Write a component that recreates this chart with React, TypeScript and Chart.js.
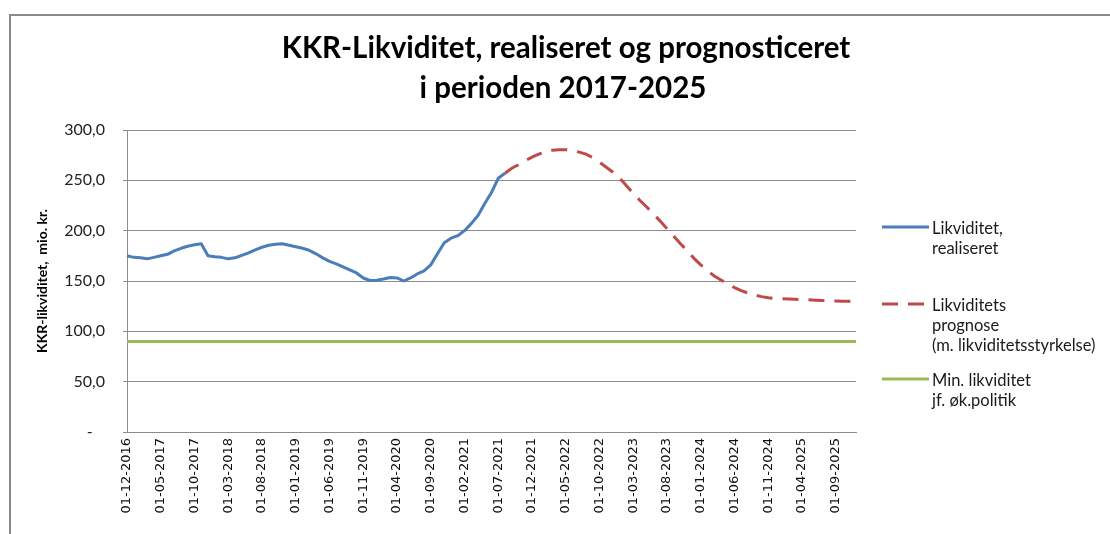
import React, { useEffect, useRef } from "react";
import { Chart, registerables } from "chart.js";

Chart.register(...registerables);

// ---------- Data ----------
const START_YEAR = 2016;
const START_MONTH = 12;
const MONTH_COUNT = 109; // 01-12-2016 .. 01-12-2025
const TICK_STEP = 5;

const categories: string[] = Array.from({ length: MONTH_COUNT }, (_, i) => {
  const m0 = START_MONTH - 1 + i;
  const y = START_YEAR + Math.floor(m0 / 12);
  const m = (m0 % 12) + 1;
  return `01-${String(m).padStart(2, "0")}-${y}`;
});

// Realised liquidity (mio. kr.), 01-12-2016 .. 01-08-2021
const realiseret: number[] = [
  175, 173.5, 173, 172, 173.5, 175, 176.5, 180, 182.5, 184.5, 186, 187,
  175, 174, 173.5, 172, 173, 175.5, 178, 181, 183.5, 185.5, 186.5, 187,
  185.5, 184, 182.5, 180.5, 177, 173, 169.5, 167, 164, 161, 158, 153,
  150.5, 150.8, 152, 153.5, 153, 150, 153, 157, 160, 166, 177, 188,
  192.5, 195, 200, 207, 215, 227, 238, 252, 257,
];

// Forecast (mio. kr.), 01-08-2021 .. 01-12-2025
const PROGNOSE_START = 56;
const prognose: number[] = [
  257, 262, 265.5, 269.5, 273, 276, 278.5, 279.8, 280.3, 280.5,
  279.5, 278, 276, 272.5, 268, 263, 258, 252, 244.5, 237,
  230, 223.5, 216.5, 209.5, 202, 194.5, 187, 180, 172.5, 166,
  160.5, 155, 151, 147, 143.5, 140.5, 138, 136, 134.5, 133.3,
  132.7, 132.3, 132, 131.8, 131.6, 131.3, 131, 130.6, 130.3, 130.1,
  130, 130, 130,
];

// Minimum liquidity according to economic policy (mio. kr.)
const MIN_LIKVIDITET = 90;

const yTicks = { min: 0, max: 300, step: 50 };

const titleLines = [
  "KKR-Likviditet, realiseret og prognosticeret",
  "i perioden 2017-2025",
];
const yAxisTitle = "KKR-likviditet,  mio. kr.";

const legendLines: string[][] = [
  ["Likviditet,", "realiseret"],
  ["Likviditets", "prognose", "(m. likviditetsstyrkelse)"],
  ["Min. likviditet", "jf. øk.politik"],
];

const COLORS = {
  real: "#4A7EBB",
  prog: "#BE4B48",
  min: "#9BBB59",
  grid: "#8C8C8C",
  text: "#1A1A1A",
};

// ---------- Plugins ----------
const framePlugin = {
  id: "frame",
  beforeDraw(chart: any) {
    const ctx = chart.ctx as CanvasRenderingContext2D;
    ctx.save();
    ctx.strokeStyle = "#8A8A8A";
    ctx.lineWidth = 2;
    ctx.beginPath();
    ctx.moveTo(10, 534);
    ctx.lineTo(10, 15);
    ctx.lineTo(1110, 15);
    ctx.stroke();
    ctx.restore();
  },
};

const titlePlugin = {
  id: "customTitle",
  afterDraw(chart: any) {
    const ctx = chart.ctx as CanvasRenderingContext2D;
    ctx.save();
    ctx.font = "bold 29.5px Lato";
    ctx.fillStyle = "#000";
    ctx.textAlign = "center";
    ctx.textBaseline = "alphabetic";
    ctx.fillText(titleLines[0], 566, 58);
    ctx.fillText(titleLines[1], 563, 98);
    ctx.restore();
  },
};

const legendPlugin = {
  id: "customLegend",
  afterDraw(chart: any) {
    const ctx = chart.ctx as CanvasRenderingContext2D;
    const datasets = chart.data.datasets;
    const itemTops = [229, 306, 381];
    ctx.save();
    ctx.font = "16.5px Lato";
    ctx.fillStyle = COLORS.text;
    ctx.textAlign = "left";
    ctx.textBaseline = "middle";
    legendLines.forEach((lines, i) => {
      const ds = datasets[i];
      const y0 = itemTops[i];
      ctx.save();
      ctx.strokeStyle = ds.borderColor;
      ctx.lineWidth = 3;
      ctx.setLineDash(ds.borderDash || []);
      ctx.lineCap = "butt";
      ctx.beginPath();
      ctx.moveTo(882, y0 - 2);
      ctx.lineTo(929, y0 - 2);
      ctx.stroke();
      ctx.restore();
      lines.forEach((t, j) => ctx.fillText(t, 932, y0 + j * 20));
    });
    ctx.restore();
  },
};

export default function App() {
  const canvasRef = useRef<HTMLCanvasElement | null>(null);

  useEffect(() => {
    const canvas = canvasRef.current;
    if (!canvas) return;

    const realData = categories.map((_, i) => (i < realiseret.length ? realiseret[i] : null));
    const progData = categories.map((_, i) =>
      i >= PROGNOSE_START && i - PROGNOSE_START < prognose.length ? prognose[i - PROGNOSE_START] : null
    );
    const minData = categories.map(() => MIN_LIKVIDITET);

    const chart = new Chart(canvas, {
      type: "line",
      data: {
        labels: categories,
        datasets: [
          {
            label: legendLines[0].join(" "),
            data: realData,
            borderColor: COLORS.real,
            backgroundColor: COLORS.real,
            borderWidth: 3,
            pointRadius: 0,
            tension: 0,
            borderJoinStyle: "round",
          },
          {
            label: legendLines[1].join(" "),
            data: progData,
            borderColor: COLORS.prog,
            backgroundColor: COLORS.prog,
            borderWidth: 3,
            borderDash: [16, 10],
            pointRadius: 0,
            tension: 0,
          },
          {
            label: legendLines[2].join(" "),
            data: minData,
            borderColor: COLORS.min,
            backgroundColor: COLORS.min,
            borderWidth: 3,
            pointRadius: 0,
            tension: 0,
          },
        ],
      },
      options: {
        animation: false,
        responsive: false,
        maintainAspectRatio: false,
        layout: { padding: { left: 22, top: 130, right: 254, bottom: 0 } },
        plugins: {
          legend: { display: false },
          title: { display: false },
          tooltip: { enabled: false },
        },
        scales: {
          x: {
            type: "category",
            offset: false,
            grid: { display: false, drawTicks: false },
            border: { display: true, color: COLORS.grid, width: 1 },
            ticks: {
              autoSkip: false,
              minRotation: 90,
              maxRotation: 90,
              padding: 6,
              color: "#111",
              font: { family: "DejaVu Sans", size: 13 },
              callback: function (this: any, val: any, index: number) {
                return index % TICK_STEP === 0 ? this.getLabelForValue(val) : "";
              },
            },
            afterFit: (scale: any) => {
              scale.height = 102;
            },
          },
          y: {
            min: yTicks.min,
            max: yTicks.max,
            grid: { color: COLORS.grid, lineWidth: 1, drawTicks: true, tickLength: 4 },
            border: { display: true, color: COLORS.grid, width: 1 },
            ticks: {
              stepSize: yTicks.step,
              padding: 18,
              color: "#222",
              font: { family: "Lato", size: 16 },
              callback: (v: any) => (Number(v) === 0 ? "-   " : Number(v).toFixed(1).replace(".", ",")),
            },
            title: {
              display: true,
              text: yAxisTitle,
              color: "#000",
              font: { family: "Lato", size: 14, weight: "bold" },
              padding: { top: 12, bottom: 0 },
            },
            afterFit: (scale: any) => {
              scale.width = 105;
            },
          },
        },
      },
      plugins: [framePlugin, titlePlugin, legendPlugin],
    } as any);

    return () => chart.destroy();
  }, []);

  return (
    <div style={{ position: "absolute", left: 0, top: 0, width: 1110, height: 534, background: "#fff" }}>
      <canvas ref={canvasRef} width={1110} height={534} style={{ width: 1110, height: 534, display: "block" }} />
    </div>
  );
}
